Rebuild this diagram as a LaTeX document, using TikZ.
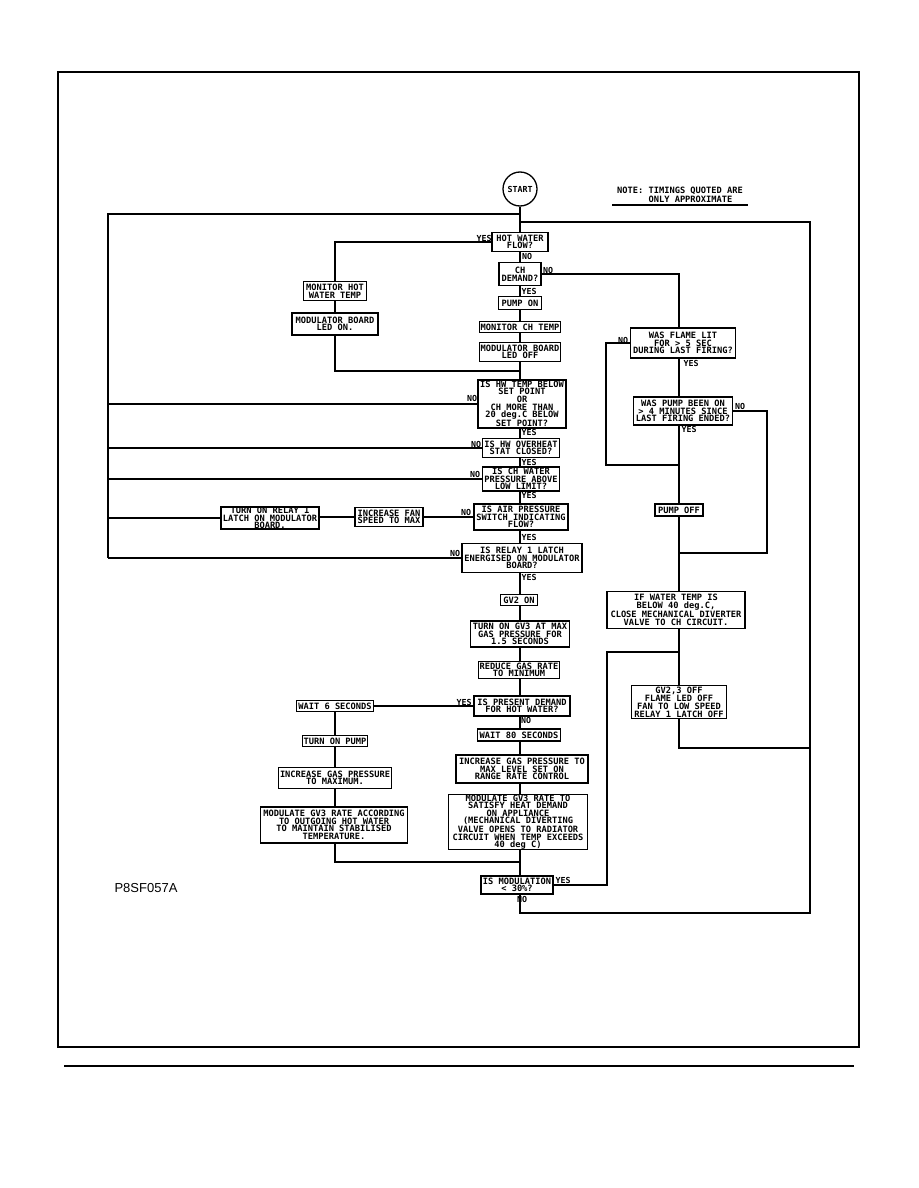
\documentclass[tikz,border=0pt]{standalone}
\usepackage{fontspec}
\newfontfamily\pf{DejaVu Sans Mono}
\newfontfamily\lsans{Liberation Sans}
\begin{document}
\begin{tikzpicture}[x=1pt,y=-1pt,
  bx/.style={draw, line width=1.3pt, inner sep=0pt, align=center,
    font=\pf\bfseries\fontsize{8.7}{7.6}\selectfont},
  sz/.style 2 args={minimum width=#1pt, minimum height=#2pt},
  lbl/.style={inner sep=0pt, font=\pf\bfseries\fontsize{8.3}{8}\selectfont},
  ln/.style={line width=1.2pt},
  frm/.style={line width=1.1pt}]
\useasboundingbox (0,0) rectangle (918,1188);
% frame and bottom rule
\draw[frm] (58,72) rectangle (859,1047);
\coordinate (ruleL) at (64,1066);
\coordinate (ruleR) at (854,1066);
\draw[frm] (ruleL) -- (ruleR);

% columns and junctions
\coordinate (mc) at (520,0);
\coordinate (rc) at (679,0);
\coordinate (lc) at (335,0);
\coordinate (jL) at (520,214);
\coordinate (jR) at (520,222);
\coordinate (LT) at (108,214);
\coordinate (RT) at (810,222);
\coordinate (RB) at (810,913);
\coordinate (J1) at (520,371);
\coordinate (J2) at (520,862);
\coordinate (FL) at (606,465);
\coordinate (PQ) at (767,553);
\coordinate (GV) at (810,748);
\coordinate (MY) at (607,652);

% start and note
\node[draw, circle, line width=1.3pt, minimum size=34pt, inner sep=0pt,
  font=\pf\bfseries\fontsize{8.3}{8}\selectfont] (start) at (520,189) {START};
\node[inner sep=0pt, align=left, font=\pf\bfseries\fontsize{8.7}{7.6}\selectfont] (note) at (680,195)
  {NOTE: TIMINGS QUOTED ARE\\\hphantom{NOTE: }ONLY APPROXIMATE};
\coordinate (ulL) at (612,205);
\coordinate (ulR) at (748,205);
\draw[ln] (ulL) -- (ulR);

% main column
\node[bx, sz={56}{19}] (hwf) at (520,242) {HOT WATER\\FLOW?};
\node[bx, sz={42}{23}] (chd) at (520,274) {CH\\DEMAND?};
\node[bx, sz={43}{13}] (pumpon) at (520,303) {PUMP ON};
\node[bx, sz={81}{11}] (moncht) at (520,327) {MONITOR CH TEMP};
\node[bx, sz={81}{19}] (modoff) at (520,352) {MODULATOR BOARD\\LED OFF};
\node[bx, sz={88}{48}] (hwtemp) at (522,404) {IS HW TEMP BELOW\\SET POINT\\OR\\CH MORE THAN\\20 deg.C BELOW\\SET POINT?};
\node[bx, sz={77}{19}] (ovh) at (521,448) {IS HW OVERHEAT\\STAT CLOSED?};
\node[bx, sz={77}{24}] (chp) at (521,479) {IS CH WATER\\PRESSURE ABOVE\\LOW LIMIT?};
\node[bx, sz={94}{26}] (air) at (521,517) {IS AIR PRESSURE\\SWITCH INDICATING\\FLOW?};
\node[bx, sz={120}{29}] (relq) at (522,558) {IS RELAY 1 LATCH\\ENERGISED ON MODULATOR\\BOARD?};
\node[bx, sz={37}{11}] (gv2) at (519,600) {GV2 ON};
\node[bx, sz={99}{26}] (gv3) at (520,634) {TURN ON GV3 AT MAX\\GAS PRESSURE FOR\\1.5 SECONDS};
\node[bx, sz={81}{17}] (red) at (519,670) {REDUCE GAS RATE\\TO MINIMUM};
\node[bx, sz={96}{20}] (pres) at (522,706) {IS PRESENT DEMAND\\FOR HOT WATER?};
\node[bx, sz={83}{12}] (w80) at (519,735) {WAIT 80 SECONDS};
\node[bx, sz={132}{28}] (incmax) at (522,769) {INCREASE GAS PRESSURE TO\\MAX LEVEL SET ON\\RANGE RATE CONTROL};
\node[bx, sz={139}{55}] (modgv3) at (518,822) {MODULATE GV3 RATE TO\\SATISFY HEAT DEMAND\\ON APPLIANCE\\(MECHANICAL DIVERTING\\VALVE OPENS TO RADIATOR\\CIRCUIT WHEN TEMP EXCEEDS\\40 deg C)};
\node[bx, sz={72}{18}] (mod30) at (517,885) {IS MODULATION\\< 30\%?};

% left branches
\node[bx, sz={63}{19}] (monhw) at (335,291) {MONITOR HOT\\WATER TEMP};
\node[bx, sz={86}{22}] (modon) at (335,324) {MODULATOR BOARD\\LED ON.};
\node[bx, sz={68}{19}] (fan) at (389,517) {INCREASE FAN\\SPEED TO MAX};
\node[bx, sz={98}{22}] (relon) at (270,518) {TURN ON RELAY 1\\LATCH ON MODULATOR\\BOARD.};
\node[bx, sz={77}{11}] (w6) at (335,706) {WAIT 6 SECONDS};
\node[bx, sz={65}{11}] (tpump) at (335,741) {TURN ON PUMP};
\node[bx, sz={113}{21}] (incgas) at (335,778) {INCREASE GAS PRESSURE\\TO MAXIMUM.};
\node[bx, sz={147}{36}] (modacc) at (334,825) {MODULATE GV3 RATE ACCORDING\\TO OUTGOING HOT WATER\\TO MAINTAIN STABILISED\\TEMPERATURE.};

% right branch
\node[bx, sz={105}{30}] (flame) at (683,343) {WAS FLAME LIT\\FOR > 5 SEC\\DURING LAST FIRING?};
\node[bx, sz={99}{28}] (pumpq) at (683,411) {WAS PUMP BEEN ON\\> 4 MINUTES SINCE\\LAST FIRING ENDED?};
\node[bx, sz={48}{12}] (poff) at (679,510) {PUMP OFF};
\node[bx, sz={138}{37}] (ifw) at (676,610) {IF WATER TEMP IS\\BELOW 40 deg.C,\\CLOSE MECHANICAL DIVERTER\\VALVE TO CH CIRCUIT.};
\node[bx, sz={95}{33}] (gvoff) at (679,702) {GV2,3 OFF\\FLAME LED OFF\\FAN TO LOW SPEED\\RELAY 1 LATCH OFF};

% drawing code label
\node[inner sep=0pt, font=\lsans\fontsize{13}{13}\selectfont] (code) at (146,888) {P8SF057A};

% main column connectors
\draw[ln] (start) -- (hwf);
\draw[ln] (hwf.south -| mc) -- (chd.north -| mc);
\draw[ln] (chd.south -| mc) -- (pumpon.north -| mc);
\draw[ln] (pumpon.south -| mc) -- (moncht.north -| mc);
\draw[ln] (moncht.south -| mc) -- (modoff.north -| mc);
\draw[ln] (modoff.south -| mc) -- (hwtemp.north -| mc);
\draw[ln] (hwtemp.south -| mc) -- (ovh.north -| mc);
\draw[ln] (ovh.south -| mc) -- (chp.north -| mc);
\draw[ln] (chp.south -| mc) -- (air.north -| mc);
\draw[ln] (air.south -| mc) -- (relq.north -| mc);
\draw[ln] (relq.south -| mc) -- (gv2.north -| mc);
\draw[ln] (gv2.south -| mc) -- (gv3.north -| mc);
\draw[ln] (gv3.south -| mc) -- (red.north -| mc);
\draw[ln] (red.south -| mc) -- (pres.north -| mc);
\draw[ln] (pres.south -| mc) -- (w80.north -| mc);
\draw[ln] (w80.south -| mc) -- (incmax.north -| mc);
\draw[ln] (incmax.south -| mc) -- (modgv3.north -| mc);
\draw[ln] (modgv3.south -| mc) -- (mod30.north -| mc);

% outer return loops
\draw[ln] (jL) -- (LT) -- (LT |- relq.west);
\draw[ln] (jR) -- (RT) -- (RB) -- (RB -| mc) -- (mod30.south -| mc);

% NO returns to the left loop
\draw[ln] (hwtemp.west) -- (hwtemp.west -| LT);
\draw[ln] (ovh.west) -- (ovh.west -| LT);
\draw[ln] (chp.west) -- (chp.west -| LT);
\draw[ln] (air.west) -- (fan.east);
\draw[ln] (fan.west) -- (relon.east |- fan.west);
\draw[ln] (relon.west) -- (relon.west -| LT);
\draw[ln] (relq.west) -- (relq.west -| LT);

% hot water flow branch
\draw[ln] (hwf.west) -- (hwf.west -| lc) -- (monhw.north -| lc);
\draw[ln] (monhw.south -| lc) -- (modon.north -| lc);
\draw[ln] (modon.south -| lc) -- (lc |- J1) -- (J1);

% hot water demand branch
\draw[ln] (pres.west) -- (w6.east);
\draw[ln] (w6.south -| lc) -- (tpump.north -| lc);
\draw[ln] (tpump.south -| lc) -- (incgas.north -| lc);
\draw[ln] (incgas.south -| lc) -- (modacc.north -| lc);
\draw[ln] (modacc.south -| lc) -- (lc |- J2) -- (J2);

% right branch
\draw[ln] (chd.east) -- (chd.east -| rc) -- (flame.north -| rc);
\draw[ln] (flame.west) -- (flame.west -| FL) -- (FL) -- (FL -| rc);
\draw[ln] (flame.south -| rc) -- (pumpq.north -| rc);
\draw[ln] (pumpq.east) -- (pumpq.east -| PQ) -- (PQ) -- (PQ -| rc);
\draw[ln] (pumpq.south -| rc) -- (poff.north -| rc);
\draw[ln] (poff.south -| rc) -- (ifw.north -| rc);
\draw[ln] (ifw.south -| rc) -- (gvoff.north -| rc);
\draw[ln] (gvoff.south -| rc) -- (rc |- GV) -- (GV);
\draw[ln] (mod30.east) -- (mod30.east -| MY) -- (MY) -- (MY -| rc);

% YES / NO labels
\node[lbl] (l1) at (484,238) {YES};
\node[lbl] (l2) at (527,256) {NO};
\node[lbl] (l3) at (548,270) {NO};
\node[lbl] (l4) at (529,291) {YES};
\node[lbl] (l5) at (472,398) {NO};
\node[lbl] (l6) at (529,432) {YES};
\node[lbl] (l7) at (476,444) {NO};
\node[lbl] (l8) at (529,462) {YES};
\node[lbl] (l9) at (475,474) {NO};
\node[lbl] (l10) at (529,495) {YES};
\node[lbl] (l11) at (466,512) {NO};
\node[lbl] (l12) at (529,537) {YES};
\node[lbl] (l13) at (455,553) {NO};
\node[lbl] (l14) at (529,577) {YES};
\node[lbl] (l15) at (464,702) {YES};
\node[lbl] (l16) at (526,720) {NO};
\node[lbl] (l17) at (563,880) {YES};
\node[lbl] (l18) at (522,899) {NO};
\node[lbl] (l19) at (623,340) {NO};
\node[lbl] (l20) at (691,363) {YES};
\node[lbl] (l21) at (740,406) {NO};
\node[lbl] (l22) at (689,429) {YES};
\end{tikzpicture}
\end{document}
